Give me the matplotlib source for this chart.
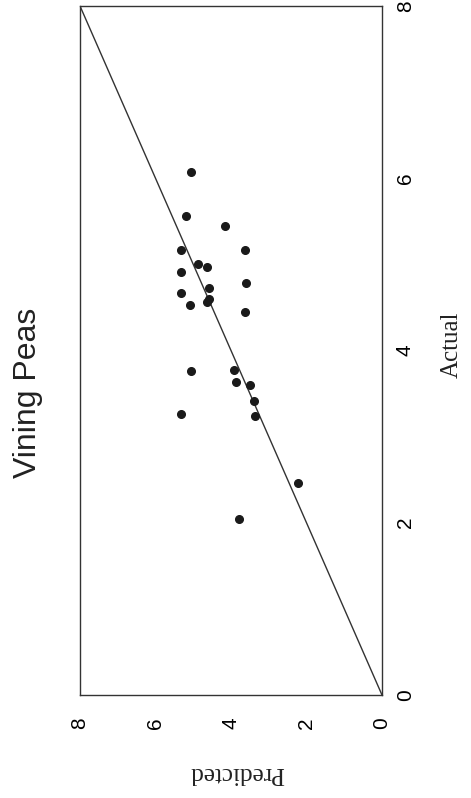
import matplotlib
matplotlib.use("Agg")
import matplotlib.pyplot as plt

# Data: (Predicted, Actual)
predicted = [5.06, 5.18, 4.16, 5.32, 3.63, 4.88, 4.64, 5.33, 4.57, 3.61, 5.33, 4.57,
             4.63, 5.08, 3.63, 5.07, 3.92, 3.86, 3.50, 3.39, 5.32, 3.37, 2.23, 3.79]
actual = [6.07, 5.56, 5.44, 5.17, 5.17, 5.00, 4.97, 4.91, 4.72, 4.78, 4.67, 4.60,
          4.56, 4.53, 4.45, 3.76, 3.77, 3.64, 3.60, 3.41, 3.26, 3.24, 2.46, 2.04]
line_vals = [0, 8]
ticks = [0, 2, 4, 6, 8]
tick_labels = ["0", "2", "4", "6", "8"]

W, H = 471, 798
fig = plt.figure(figsize=(W / 100, H / 100), dpi=100)
ax = fig.add_axes([80 / W, 1 - 695 / H, 302 / W, 689 / H])

# Chart is shown rotated 90 degrees counter-clockwise
ax.plot(line_vals, line_vals, color="#333333", lw=1.0)
ax.plot(predicted, actual, "o", color="#1a1a1a", ms=5.5, mec="#1a1a1a")

ax.set_xlim(8, 0)
ax.set_ylim(0, 8)
ax.set_xticks(ticks)
ax.set_xticklabels(tick_labels, rotation=90, fontsize=15, family="Liberation Sans")
ax.set_yticks(ticks)
ax.set_yticklabels(tick_labels, rotation=90, fontsize=15, family="Liberation Sans",
                   va="center")
ax.yaxis.tick_right()
ax.tick_params(axis="x", length=0, pad=16)
ax.tick_params(axis="y", length=0, pad=10)
for s in ax.spines.values():
    s.set_linewidth(1.0)
    s.set_color("#333333")

fig.text(28 / W, 1 - 393 / H, "Vining Peas", rotation=90, ha="center", va="center",
         fontsize=23, family="Liberation Sans", color="#222222")
fig.text(452 / W, 1 - 345 / H, "Actual", rotation=90, ha="center", va="center",
         fontsize=18, family="Liberation Serif", color="#222222")
fig.text(237 / W, 1 - 773 / H, "Predicted", rotation=180, ha="center", va="center",
         fontsize=18, family="Liberation Serif", color="#222222")

fig.savefig("out.png", dpi=100)
